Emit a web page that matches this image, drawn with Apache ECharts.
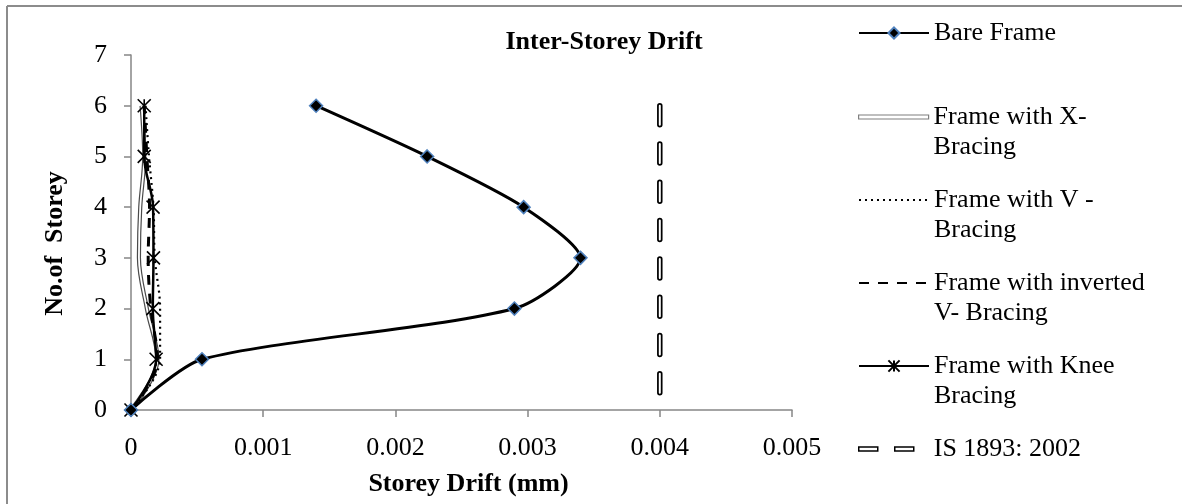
<!DOCTYPE html>
<html><head><meta charset="utf-8">
<script src="https://cdn.jsdelivr.net/npm/echarts@6/dist/echarts.min.js"></script>
<style>html,body{margin:0;padding:0;background:#fff}#c{width:1182px;height:504px}</style>
</head><body><div id="c"></div>
<script>
// ---- data ----
const storeys = [0, 1, 2, 3, 4, 5, 6];
const bareFrame = [0, 0.000537, 0.0029, 0.0034, 0.00297, 0.00224, 0.0014];
const xBracing = [0, 0.0002, 0.00012, 0.00006, 0.00007, 0.0001, 0.00008];
const vBracing = [0, 0.00022, 0.00022, 0.00018, 0.00017, 0.000136, 0.00011];
const invVBracing = [0, 0.0002, 0.00015, 0.00013, 0.00014, 0.00012, 0.0001];
const kneeBracing = [0, 0.00019, 0.000165, 0.00017, 0.000167, 0.0001, 0.0001];
const isLimitDrift = [0.004, 0.004];
const isLimitStoreys = [6, 0];
const seriesNames = ['Bare Frame', 'Frame with X-Bracing', 'Frame with V -Bracing',
  'Frame with inverted V- Bracing', 'Frame with Knee Bracing', 'IS 1893: 2002'];
const legendLines = {
  'Bare Frame': ['Bare Frame'],
  'Frame with X-Bracing': ['Frame with X-', 'Bracing'],
  'Frame with V -Bracing': ['Frame with V -', 'Bracing'],
  'Frame with inverted V- Bracing': ['Frame with inverted', 'V- Bracing'],
  'Frame with Knee Bracing': ['Frame with Knee', 'Bracing'],
  'IS 1893: 2002': ['IS 1893: 2002']
};

const zip = (xs, ys) => xs.map((x, i) => [x, ys[i]]);
const F = "'Liberation Serif','Times New Roman',serif";
const AX = '#868686';
const SM = 0.35;

const legendCenters = [33, 117, 200, 283, 366, 449];
const legendItemExtra = {
  'Frame with X-Bracing': {icon: 'path://M0,0H70V4H0Z', itemStyle: {color: '#fff', borderColor: '#7f7f7f', borderWidth: 1.2}},
  'Frame with V -Bracing': {itemStyle: {opacity: 0}},
  'Frame with inverted V- Bracing': {itemStyle: {opacity: 0}},
  'IS 1893: 2002': {icon: 'path://M0,0H19V4H0Z M36,0H55V4H36Z', itemStyle: {color: '#fff', borderColor: '#000', borderWidth: 1.5}}
};
const legends = seriesNames.map((n, i) => {
  const lines = legendLines[n];
  const h = lines.length > 1 ? 90 : 30;
  const d = Object.assign({name: n}, legendItemExtra[n] || {});
  const isIS = n === 'IS 1893: 2002';
  return {
    left: 858, top: legendCenters[i] - h / 2, orient: 'vertical', padding: 0,
    itemWidth: isIS ? 55 : 70, itemHeight: 14, itemGap: 0, selectedMode: false,
    textStyle: {fontFamily: F, fontSize: 26, color: '#000', lineHeight: 30, padding: isIS ? [0, 0, 0, 15] : 0},
    formatter: name => { const l = legendLines[name]; return l.length > 1 ? ' \n' + l.join('\n') : l[0]; },
    data: [d]
  };
});

const option = {
  animation: false,
  backgroundColor: '#fff',
  title: {
    text: 'Inter-Storey Drift', left: 599, top: 24, textAlign: 'center',
    textStyle: {fontFamily: F, fontSize: 26, fontWeight: 'bold', color: '#000'}
  },
  legend: legends,
  grid: {left: 131, right: 390, top: 55, bottom: 94, containLabel: false},
  xAxis: {
    type: 'value', min: 0, max: 0.005, interval: 0.001,
    name: 'Storey Drift (mm)', nameLocation: 'middle', nameGap: 61,
    nameTextStyle: {fontFamily: F, fontSize: 26, fontWeight: 'bold', color: '#000', padding: [0, 0, 0, 14]},
    axisLine: {lineStyle: {color: AX, width: 1.5}},
    axisTick: {show: true, length: 7, lineStyle: {color: AX, width: 1.5}},
    axisLabel: {fontFamily: F, fontSize: 26, color: '#000', margin: 25},
    splitLine: {show: false}
  },
  yAxis: {
    type: 'value', min: 0, max: 7, interval: 1,
    name: 'No.of  Storey', nameLocation: 'middle', nameGap: 63, nameRotate: 90,
    nameTextStyle: {fontFamily: F, fontSize: 26, fontWeight: 'bold', color: '#000', padding: [0, 22, 0, 0]},
    axisLine: {show: true, lineStyle: {color: AX, width: 1.5}},
    axisTick: {show: true, length: 7, lineStyle: {color: AX, width: 1.5}},
    axisLabel: {fontFamily: F, fontSize: 26, color: '#000', margin: 24},
    splitLine: {show: false}
  },
  graphic: [
    {type: 'line', shape: {x1: 7, y1: 6, x2: 1182, y2: 6}, style: {stroke: '#8c8c8c', lineWidth: 2}},
    {type: 'line', shape: {x1: 7, y1: 6, x2: 7, y2: 504}, style: {stroke: '#8c8c8c', lineWidth: 2}}
  ],
  series: [
    {name: 'Frame with X-Bracing', type: 'line', smooth: SM, symbol: 'none', z: 2,
      data: zip(xBracing, storeys), lineStyle: {color: '#4a4a4a', width: 4.2}, itemStyle: {color: '#4a4a4a'}},
    {name: 'xInner', type: 'line', smooth: SM, symbol: 'none', z: 3,
      data: zip(xBracing, storeys), lineStyle: {color: '#fff', width: 1.8}},
    {name: 'Frame with V -Bracing', type: 'line', smooth: SM, symbol: 'none', z: 4,
      data: zip(vBracing, storeys), lineStyle: {color: '#000', width: 2.2, type: [2, 4]}, itemStyle: {color: '#000'}},
    {name: 'Frame with inverted V- Bracing', type: 'line', smooth: SM, symbol: 'none', z: 4,
      data: zip(invVBracing, storeys), lineStyle: {color: '#000', width: 3, type: [10, 9]}, itemStyle: {color: '#000'}},
    {name: 'Frame with Knee Bracing', type: 'line', smooth: SM, z: 5,
      symbol: 'path://M0,0L10,10M10,0L0,10M5,0L5,10', symbolSize: 13,
      data: zip(kneeBracing, storeys), lineStyle: {color: '#000', width: 2.5},
      itemStyle: {color: '#000', borderColor: '#000', borderWidth: 1.6}},
    {name: 'Bare Frame', type: 'line', smooth: 0.25, z: 6,
      symbol: 'diamond', symbolSize: 13,
      data: zip(bareFrame, storeys), lineStyle: {color: '#000', width: 3},
      itemStyle: {color: '#000', borderColor: '#4f81bd', borderWidth: 1.5}},
    {name: 'IS 1893: 2002', type: 'line', symbol: 'none', z: 4,
      data: zip(isLimitDrift, isLimitStoreys),
      lineStyle: {color: '#000', width: 5.5, type: [19, 19.3], cap: 'round'}, itemStyle: {color: '#000'}},
    {name: 'isInner', type: 'line', symbol: 'none', z: 5,
      data: zip(isLimitDrift, isLimitStoreys),
      lineStyle: {color: '#fff', width: 2, type: [19, 19.3], cap: 'round'}}
  ]
};
const chart = echarts.init(document.getElementById('c'), null, {renderer: 'canvas'});
chart.setOption(option);
</script></body></html>
